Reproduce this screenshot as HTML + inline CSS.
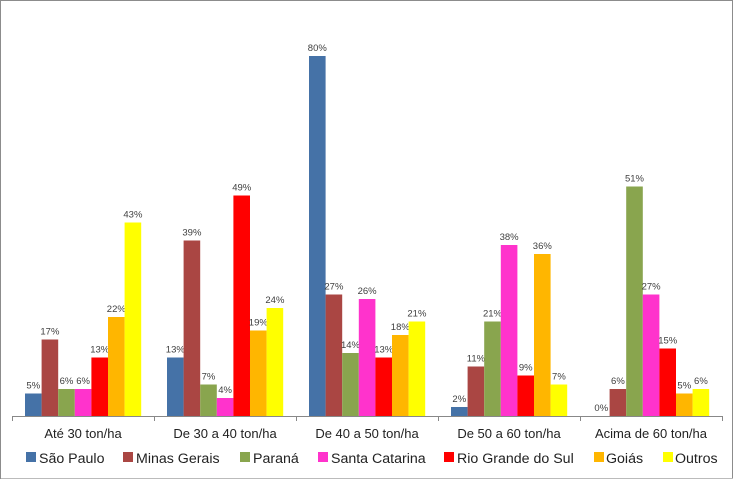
<!DOCTYPE html>
<html><head><meta charset="utf-8"><style>
body{margin:0;background:#fff}
svg{display:block}
text{font-family:"Liberation Sans",sans-serif}
</style></head><body>
<svg width="734" height="480" viewBox="0 0 734 480" xmlns="http://www.w3.org/2000/svg">
<rect x="0.5" y="0.5" width="732" height="478" fill="#fff" stroke="#8c8c8c"/>
<line x1="1" y1="478.5" x2="733" y2="478.5" stroke="#bbb"/>
<g id="bars"></g>
<line x1="12" y1="416.5" x2="722" y2="416.5" stroke="#888"/>
<g stroke="#888">
<line x1="12.5" y1="416" x2="12.5" y2="421"/><line x1="154.5" y1="416" x2="154.5" y2="421"/><line x1="296.5" y1="416" x2="296.5" y2="421"/><line x1="438.5" y1="416" x2="438.5" y2="421"/><line x1="580.5" y1="416" x2="580.5" y2="421"/><line x1="722.5" y1="416" x2="722.5" y2="421"/>
</g>
<g font-size="13" fill="#222" text-anchor="middle">
<text x="83" y="438">Até 30 ton/ha</text>
<text x="225" y="438">De 30 a 40 ton/ha</text>
<text x="367" y="438">De 40 a 50 ton/ha</text>
<text x="509" y="438">De 50 a 60 ton/ha</text>
<text x="651" y="438">Acima de 60 ton/ha</text>
</g>
<g font-size="14.2" fill="#222">
<rect x="26" y="452" width="10" height="10" fill="#4572A7"/><text x="39" y="463">São Paulo</text>
<rect x="123" y="452" width="10" height="10" fill="#AA4643"/><text x="136" y="463">Minas Gerais</text>
<rect x="240" y="452" width="10" height="10" fill="#89A54E"/><text x="253" y="463">Paraná</text>
<rect x="318" y="452" width="10" height="10" fill="#FF33CC"/><text x="331" y="463">Santa Catarina</text>
<rect x="444" y="452" width="10" height="10" fill="#FF0000"/><text x="457" y="463">Rio Grande do Sul</text>
<rect x="594" y="452" width="10" height="10" fill="#FFB600"/><text x="606" y="463">Goiás</text>
<rect x="663" y="452" width="10" height="10" fill="#FFFF00"/><text x="675" y="463">Outros</text>
</g>
</svg>
<script>
var data=[[5,17,6,6,13,22,43],[13,39,7,4,49,19,24],[80,27,14,26,13,18,21],[2,11,21,38,9,36,7],[0,6,51,27,15,5,6]];
var cols=["#4572A7","#AA4643","#89A54E","#FF33CC","#FF0000","#FFB600","#FFFF00"];
var g=document.getElementById("bars"),s="";
for(var c=0;c<5;c++)for(var i=0;i<7;i++){var v=data[c][i],x=12+c*142+13+i*16.6,h=v*4.5,y=416-h;
s+='<rect x="'+x+'" y="'+y+'" width="16.6" height="'+h+'" fill="'+cols[i]+'"/>';
s+='<text x="'+(x+8.3)+'" y="'+(y-5)+'" font-size="9.5" fill="#404040" text-anchor="middle">'+v+'%</text>';}
g.innerHTML=s;
</script>
</body></html>
